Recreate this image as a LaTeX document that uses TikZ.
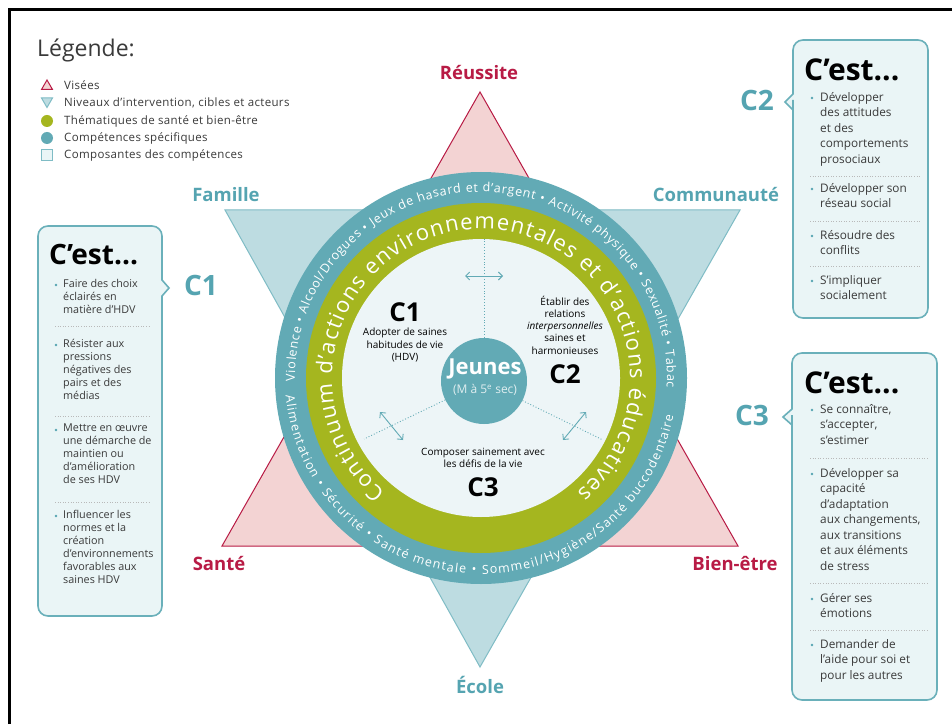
\documentclass[tikz,border=0pt]{standalone}
\usepackage{fontspec}
\setmainfont{Open Sans}
\usetikzlibrary{decorations.text,arrows.meta,calc}
\definecolor{ringteal}{HTML}{62AAB5}
\definecolor{labelteal}{HTML}{55A4B1}
\definecolor{tritealfill}{HTML}{BDDCE1}
\definecolor{tritealline}{HTML}{7FBCC5}
\definecolor{pinkfill}{HTML}{F3D3D3}
\definecolor{crimson}{HTML}{B81B45}
\definecolor{ringgreen}{HTML}{A5B61F}
\definecolor{innerdisc}{HTML}{EDF5F7}
\definecolor{boxfill}{HTML}{EAF5F6}
\definecolor{boxline}{HTML}{6AB0BA}
\definecolor{textgray}{HTML}{3A3A3A}
\newcommand\ringsmall{\fontsize{12.5}{12.5}\selectfont\color{white}}
\newcommand\ringbig{\fontsize{22}{22}\selectfont\color{white}}
\begin{document}
\begin{tikzpicture}[x=1pt,y=1pt,
 redlbl/.style={text=crimson, font=\bfseries\fontsize{18.5}{18.5}\selectfont, inner sep=0pt},
 teallbl/.style={text=labelteal, font=\bfseries\fontsize{18.5}{18.5}\selectfont, inner sep=0pt},
 clbl/.style={text=labelteal, font=\bfseries\fontsize{28}{28}\selectfont, inner sep=0pt},
 cestl/.style={anchor=west, inner sep=0pt, font=\bfseries\fontsize{28}{28}\selectfont, text=black},
 cestr/.style={anchor=west, inner sep=0pt, font=\bfseries\fontsize{30}{30}\selectfont, text=black},
 leftitem/.style={anchor=north west, inner sep=0pt, align=left, font=\fontsize{10.8}{13}\selectfont, text=textgray},
 rightitem/.style={anchor=north west, inner sep=0pt, align=left, font=\fontsize{11.8}{15.5}\selectfont, text=textgray},
 innertxt/.style={inner sep=0pt, align=center, font=\fontsize{10}{12.3}\selectfont, text=black},
 bigc/.style={inner sep=0pt, font=\bfseries\fontsize{26}{26}\selectfont, text=black},
 legtxt/.style={anchor=west, inner sep=0pt, font=\fontsize{11.5}{11.5}\selectfont\addfontfeatures{LetterSpace=3}, text=textgray},
 callout/.style={fill=boxfill, draw=boxline, line width=1.6pt},
 sepline/.style={draw=gray!55, dotted, line width=0.6pt},
 bul/.style={fill=labelteal},
 divider/.style={draw=ringteal, dotted, line width=0.9pt},
 dblarrow/.style={draw=ringteal, line width=0.9pt, {Straight Barb[length=4pt,width=8pt]}-{Straight Barb[length=4pt,width=8pt]}},
]
\useasboundingbox (0,0) rectangle (952,724);
\fill[white] (0,0) rectangle (952,724);
% frame
\draw[line width=3pt] (9,0) -- (9,714) -- (952,714);

% legend
\node[anchor=west, inner sep=0pt, font=\fontsize{23}{23}\selectfont, text=textgray] (legtitle) at (37,674) {Légende:};
\draw[fill=pinkfill, draw=crimson, line width=1pt] (41.5,634.5) -- (52.5,634.5) -- (47,644) -- cycle;
\draw[fill=tritealfill, draw=tritealline, line width=1pt] (41.5,626) -- (52.5,626) -- (47,616.5) -- cycle;
\fill[ringgreen] (47,603) circle (6pt);
\fill[ringteal] (47,586) circle (6pt);
\draw[fill=boxfill, draw=tritealline, line width=1pt] (41.5,563.5) rectangle (52.5,574.5);
\node[legtxt] (leg1) at (64,639) {Visées};
\node[legtxt] (leg2) at (64,621) {Niveaux d’intervention, cibles et acteurs};
\node[legtxt] (leg3) at (64,603) {Thématiques de santé et bien-être};
\node[legtxt] (leg4) at (64,586) {Compétences spécifiques};
\node[legtxt] (leg5) at (64,569) {Composantes des compétences};

% triangles
\draw[fill=tritealfill, draw=tritealline, line width=1pt] (225,514) -- (740,514) -- (480,57) -- cycle;
\draw[fill=pinkfill, draw=crimson, line width=1pt] (480,632) -- (738,178) -- (222,178) -- cycle;

% labels of the star
\node[redlbl] (reussite) at (479,651) {Réussite};
\node[teallbl] (famille) at (226,529) {Famille};
\node[teallbl] (communaute) at (716,529) {Communauté};
\node[redlbl] (sante) at (219,161) {Santé};
\node[redlbl] (bienetre) at (735,161) {Bien-être};
\node[teallbl] (ecole) at (480,39) {École};

% rings
\coordinate (O) at (481,346);
\fill[ringteal] (O) circle (206pt);
\fill[ringgreen] (O) circle (175pt);
\fill[innerdisc] (O) circle (139pt);

\path[decorate, decoration={text along path, text align=fit to path,
  text={|\ringsmall|Violence • Alcool/Drogues • Jeux de hasard et d’argent • Activité physique • Sexualité • Tabac}}]
  (O) ++(181:186pt) arc[start angle=181, end angle=-3, radius=186pt];
\path[decorate, decoration={text along path, text align=fit to path,
  text={|\ringsmall|Alimentation • Sécurité • Santé mentale • Sommeil/Hygiène/Santé buccodentaire}}]
  (O) ++(185:196pt) arc[start angle=185, end angle=349, radius=196pt];
\path[decorate, decoration={text along path, text align=fit to path,
  text={|\ringbig|Continuum d’actions environnementales et d’actions éducatives}}]
  (O) ++(230:149pt) arc[start angle=230, end angle=-50, radius=149pt];

% center
\node[circle, fill=ringteal, minimum size=86pt, inner sep=0pt] (jeunes) at (484,343) {};
\node[inner sep=0pt, text=white, font=\bfseries\fontsize{22}{22}\selectfont] (jeunestxt) at (485,355) {Jeunes};
\node[inner sep=0pt, text=white!80!ringteal, font=\fontsize{12}{12}\selectfont] (jeunessub) at (485,334) {(M à 5\textsuperscript{e} sec)};

\coordinate (dtop) at (484,485);
\coordinate (dleft) at (364,285);
\coordinate (dright) at (603,284);
\draw[divider] (jeunes.north) -- (dtop);
\draw[divider] (jeunes.206) -- (dleft);
\draw[divider] (jeunes.-27) -- (dright);
\coordinate (a1) at (465,448); \coordinate (a2) at (503,448);
\coordinate (b1) at (380,312); \coordinate (b2) at (403,284);
\coordinate (c1) at (586,312); \coordinate (c2) at (563,284);
\draw[dblarrow] (a1) -- (a2);
\draw[dblarrow] (b1) -- (b2);
\draw[dblarrow] (c1) -- (c2);

\node[bigc] (ic1) at (405,412) {C1};
\node[innertxt] (ic1t) at (405,379) {Adopter de saines\\habitudes de vie\\(HDV)};
\node[innertxt] (ic2t) at (565,399) {Établir des\\relations\\\textit{interpersonnelles}\\saines et\\harmonieuses};
\node[bigc] (ic2) at (565,350) {C2};
\node[innertxt] (ic3t) at (483,266) {Composer sainement avec\\les défis de la vie};
\node[bigc] (ic3) at (483,237) {C3};

% left box
\path[callout] (100,498) [rounded corners=10pt] -- (162,498) -- (162,444) [sharp corners] -- (162,444) -- (169,436) -- (162,428) [rounded corners=10pt] -- (162,108) -- (38,108) -- (38,498) -- cycle;
\node[cestl] (cest1) at (49,469) {C’est...};
\node[clbl] (lc1) at (201,439) {C1};
\fill[bul] (56,439) circle (1.3pt);
\fill[bul] (56,379) circle (1.3pt);
\fill[bul] (56,294) circle (1.3pt);
\fill[bul] (56,208) circle (1.3pt);
\node[leftitem] (l1) at (63,445) {Faire des choix\\éclairés en\\matière d’HDV};
\node[leftitem] (l2) at (63,385) {Résister aux\\pressions\\négatives des\\pairs et des\\médias};
\node[leftitem] (l3) at (63,300) {Mettre en œuvre\\une démarche de\\maintien ou\\d’amélioration\\de ses HDV};
\node[leftitem] (l4) at (63,214) {Influencer les\\normes et la\\création\\d’environnements\\favorables aux\\saines HDV};
\draw[sepline] (55,398) -- (150,398);
\draw[sepline] (55,308) -- (150,308);
\draw[sepline] (55,222) -- (150,222);

% right top box
\path[callout] (860,684) [rounded corners=10pt] -- (928,684) -- (928,406) -- (793,406) -- (793,614) [sharp corners] -- (793,614) -- (785,622) -- (793,630) [rounded corners=10pt] -- (793,684) -- cycle;
\node[cestr] (cest2) at (804,654) {C’est...};
\node[clbl] (lc2) at (757,623) {C2};
\fill[bul] (812,626) circle (1.3pt);
\fill[bul] (812,535) circle (1.3pt);
\fill[bul] (812,488) circle (1.3pt);
\fill[bul] (812,443) circle (1.3pt);
\node[rightitem] (r1) at (820,632) {Développer\\des attitudes\\et des\\comportements\\prosociaux};
\node[rightitem] (r2) at (820,541) {Développer son\\réseau social};
\node[rightitem] (r3) at (820,494) {Résoudre des\\conflits};
\node[rightitem] (r4) at (820,449) {S’impliquer\\socialement};
\draw[sepline] (810,548) -- (920,548);
\draw[sepline] (810,503) -- (920,503);
\draw[sepline] (810,458) -- (920,458);

% right bottom box
\path[callout] (860,371) [rounded corners=10pt] -- (937,371) -- (937,24) -- (792,24) -- (792,299) [sharp corners] -- (792,299) -- (783,307) -- (792,315) [rounded corners=10pt] -- (792,371) -- cycle;
\node[cestr] (cest3) at (804,341) {C’est...};
\node[clbl] (lc3) at (752,309) {C3};
\fill[bul] (812,314) circle (1.3pt);
\fill[bul] (812,250) circle (1.3pt);
\fill[bul] (812,125) circle (1.3pt);
\fill[bul] (812,79) circle (1.3pt);
\node[rightitem] (s1) at (820,320) {Se connaître,\\s’accepter,\\s’estimer};
\node[rightitem] (s2) at (820,256) {Développer sa\\capacité\\d’adaptation\\aux changements,\\aux transitions\\et aux éléments\\de stress};
\node[rightitem] (s3) at (820,131) {Gérer ses\\émotions};
\node[rightitem] (s4) at (820,85) {Demander de\\l’aide pour soi et\\pour les autres};
\draw[sepline] (810,266) -- (928,266);
\draw[sepline] (810,141) -- (928,141);
\draw[sepline] (810,94) -- (928,94);
\end{tikzpicture}
\end{document}
